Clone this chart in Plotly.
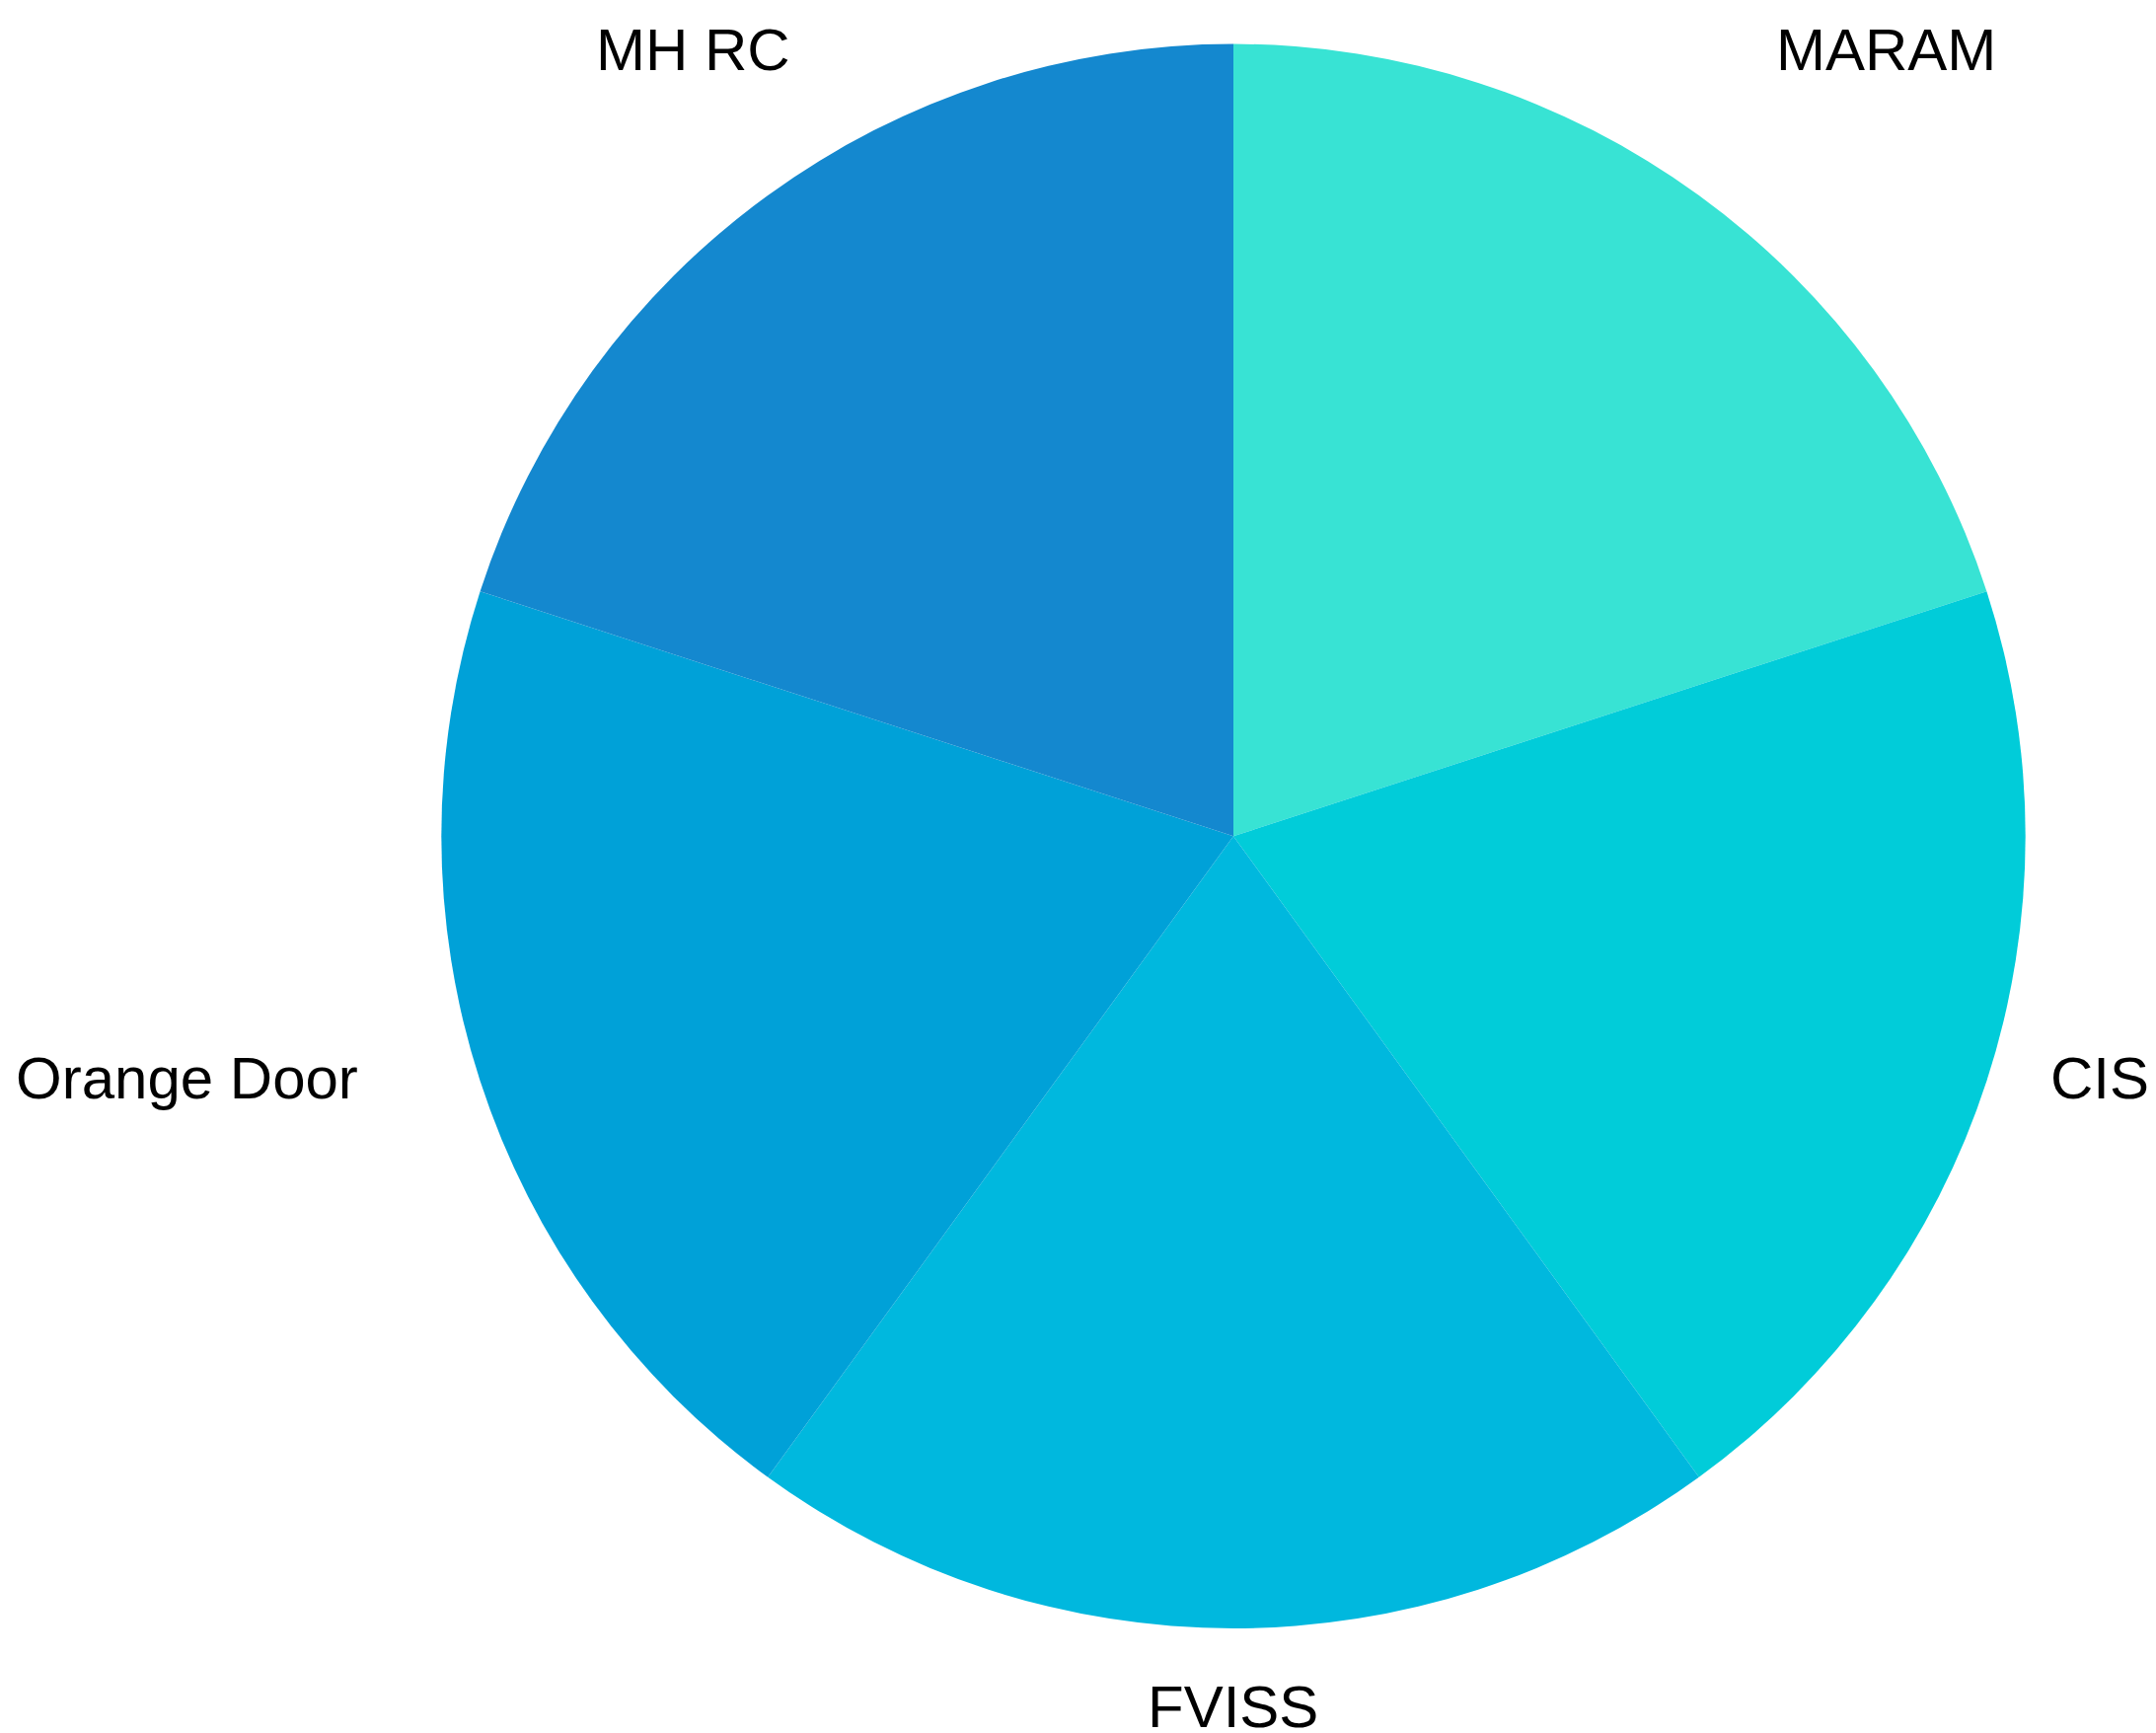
import plotly.graph_objects as go

labels = ["MARAM", "CIS", "FVISS", "Orange Door", "MH RC"]
values = [1, 1, 1, 1, 1]
colors = ["#38E3D4", "#01CCD9", "#00B8DE", "#00A1D8", "#1488CF"]

# label placement (paper coords) per category
label_pos = {
    "MH RC": dict(x=0.3675, y=0.9712, xanchor="right"),
    "MARAM": dict(x=0.8229, y=0.9712, xanchor="left"),
    "CIS": dict(x=0.950, y=0.3780, xanchor="left"),
    "Orange Door": dict(x=0.167, y=0.3780, xanchor="right"),
    "FVISS": dict(x=0.572, y=0.0150, xanchor="center"),
}

fig = go.Figure(go.Pie(
    labels=labels,
    values=values,
    sort=False,
    direction="clockwise",
    rotation=0,
    marker=dict(colors=colors, line=dict(width=0)),
    textinfo="none",
    hoverinfo="label+value",
    showlegend=False,
    domain=dict(x=[447/2185, 2053/2185], y=[1-1650/1756, 1-44.6/1756]),
))

for lab in labels:
    p = label_pos[lab]
    fig.add_annotation(
        text=lab, x=p["x"], y=p["y"], xref="paper", yref="paper",
        xanchor=p["xanchor"], yanchor="middle", showarrow=False,
        font=dict(family="Liberation Sans, Arial, sans-serif", size=60, color="#000000"),
    )

fig.update_layout(
    width=2185, height=1756,
    margin=dict(l=0, r=0, t=0, b=0),
    paper_bgcolor="#FFFFFF", plot_bgcolor="#FFFFFF",
)

fig.write_html("out.html")
